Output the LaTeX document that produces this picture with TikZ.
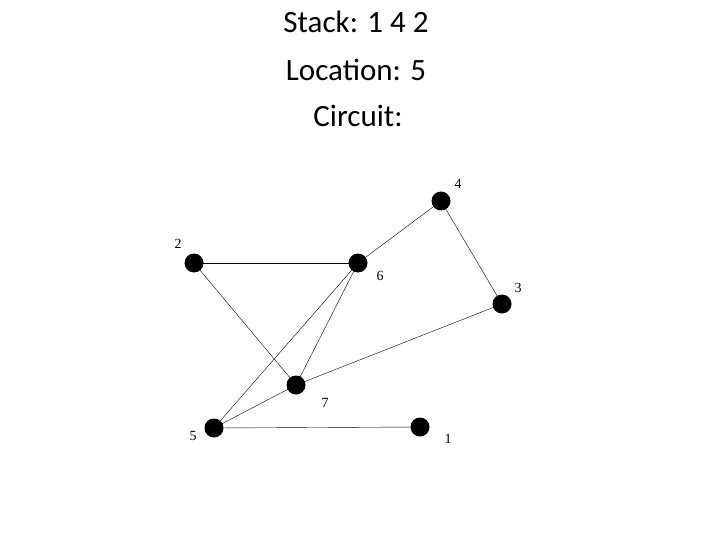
\documentclass[tikz,border=0pt]{standalone}
\usepackage{fontspec}
\setmainfont{Carlito}
\newfontfamily\lblfont{Liberation Serif}
\usetikzlibrary{positioning}
\begin{document}
\begin{tikzpicture}[x=1pt,y=-1pt,
vert/.style={circle,fill=black,inner sep=0pt,minimum size=19pt},
lbl/.style={font=\lblfont\fontsize{14}{14}\selectfont},
ttl/.style={font=\fontsize{31}{31}\selectfont},
]
\useasboundingbox (0,0) rectangle (720,540);
\node[ttl] (stack) at (356,22) {Stack: 1 4 2};
\node[ttl] (loc) at (356,70) {Location: 5};
\node[ttl] (circ) at (358,116) {Circuit:};

\node[vert] (v4) at (441,201) {};
\node[vert] (v2) at (194,263) {};
\node[vert] (v6) at (358,263) {};
\node[vert] (v3) at (502,304) {};
\node[vert] (v7) at (296,385) {};
\node[vert] (v5) at (214,428) {};
\node[vert] (v1) at (420,427) {};

\node[lbl] (l4) at (458,184) {4};
\node[lbl] (l2) at (178,244) {2};
\node[lbl] (l6) at (380,276) {6};
\node[lbl] (l3) at (518,288) {3};
\node[lbl] (l7) at (325,403) {7};
\node[lbl] (l5) at (193,436) {5};
\node[lbl] (l1) at (448,439) {1};

\draw (v2.center) -- (v6.center);
\draw (v6.center) -- (v4.center);
\draw (v4.center) -- (v3.center);
\draw (v2.center) -- (v7.center);
\draw (v6.center) -- (v7.center);
\draw (v6.center) -- (v5.center);
\draw (v3.center) -- (v7.center);
\draw (v7.center) -- (v5.center);
\draw (v5.center) -- (v1.center);
\end{tikzpicture}
\end{document}
